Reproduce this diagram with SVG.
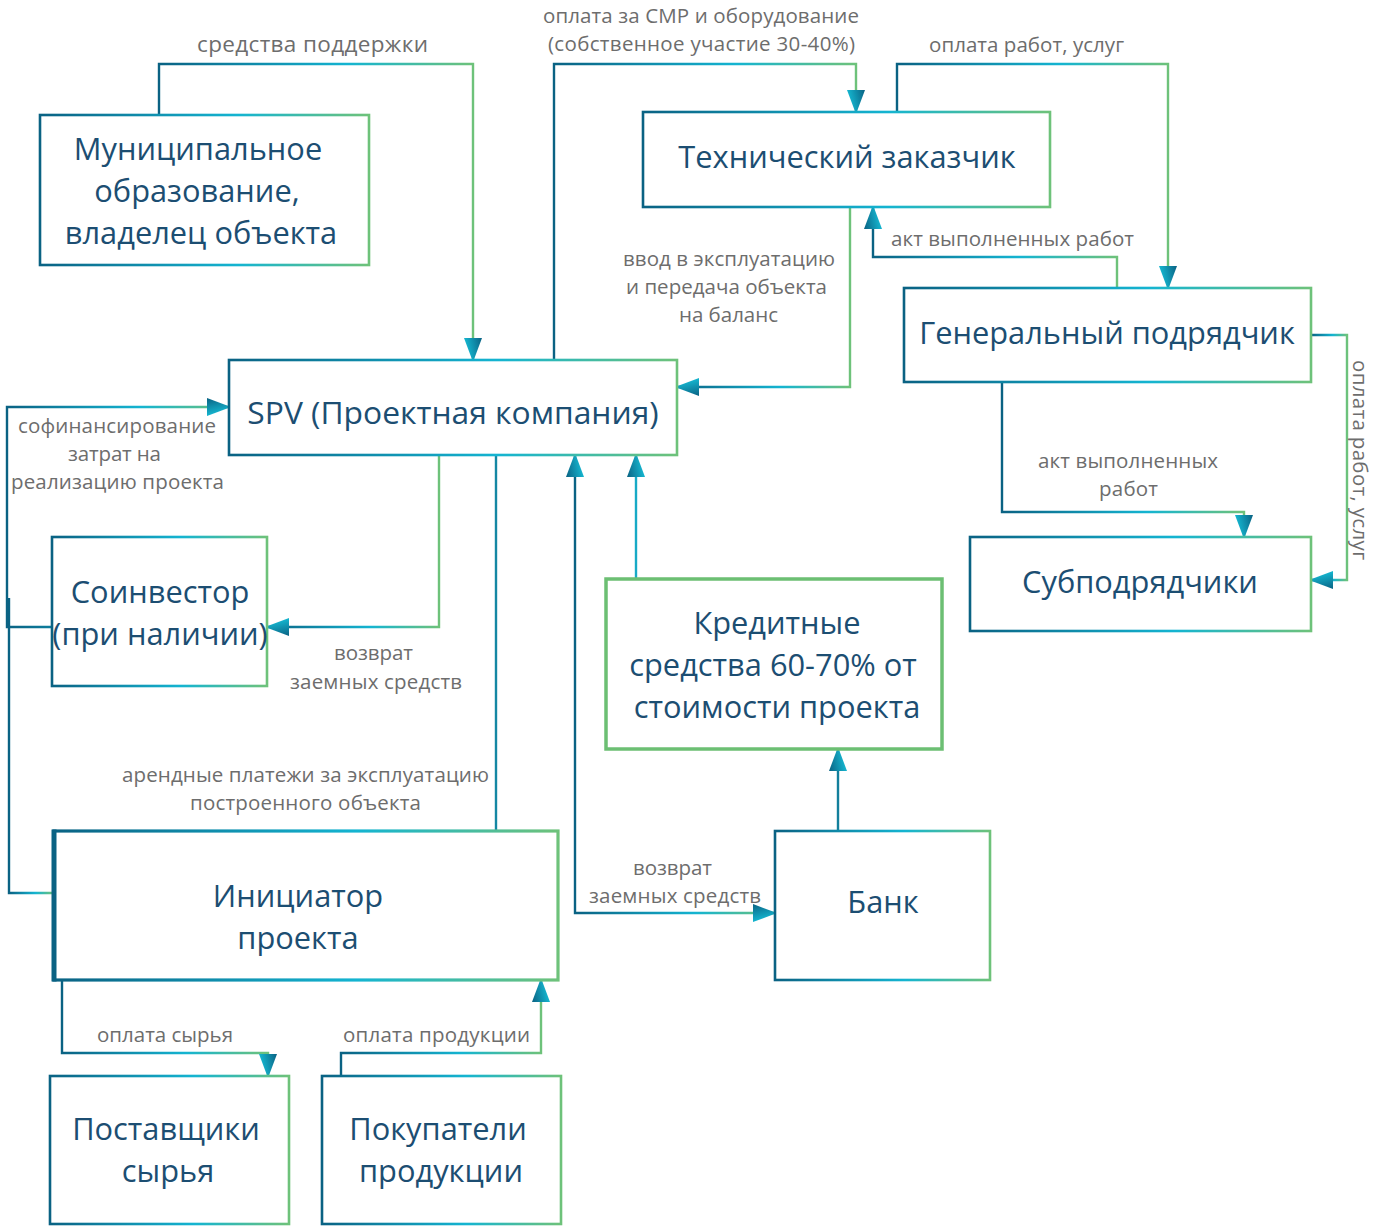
<svg xmlns="http://www.w3.org/2000/svg" width="1389" height="1226" viewBox="0 0 1389 1226">
<defs>
<linearGradient id="g" x1="0" y1="0" x2="1" y2="0">
<stop offset="0" stop-color="#0a6283"/>
<stop offset="0.6" stop-color="#14b4d1"/>
<stop offset="1" stop-color="#6ec27a"/>
</linearGradient>
<linearGradient id="ag" x1="0" y1="0" x2="0.3" y2="1">
<stop offset="0" stop-color="#0a6283"/>
<stop offset="1" stop-color="#16bdd6"/>
</linearGradient>
<marker id="arr" viewBox="0 0 24 18" refX="22" refY="9" markerWidth="24" markerHeight="18" markerUnits="userSpaceOnUse" orient="auto-start-reverse">
<path d="M0,0 L24,9 L0,18 Z" fill="url(#ag)"/>
</marker>
<style>
.box{fill:#fff;stroke:url(#g);stroke-width:2.6}
.nt{font-family:"Open Sans","Noto Sans",sans-serif;font-size:30.8px;fill:#1c4e72;text-anchor:middle}
.lbl{font-family:"Open Sans","Noto Sans",sans-serif;font-size:20.5px;fill:#6d6d6d;text-anchor:middle}
.c{fill:none;stroke:url(#g);stroke-width:2.4}
.cs{fill:none;stroke-width:2.4}
</style>
</defs>
<rect width="1389" height="1226" fill="#fff"/>

<g id="connectors">
<path class="c" d="M159,115 V64 H473 V360" marker-end="url(#arr)"/>
<path class="c" d="M554,360 V64 H856 V112" marker-end="url(#arr)"/>
<path class="c" d="M897,112 V64 H1168 V288" marker-end="url(#arr)"/>
<path class="c" d="M1117,288 V257 H873 V207" marker-end="url(#arr)"/>
<path class="c" d="M850,207 V387 H677" marker-end="url(#arr)"/>
<path class="c" d="M1311,335 H1347 V580 H1311" marker-end="url(#arr)"/>
<path class="c" d="M1002,382 V512 H1244 V537" marker-end="url(#arr)"/>
<path class="c" d="M52,627 H7 V407 H229" marker-end="url(#arr)"/>
<path class="c" d="M53,893 H9 V598"/>
<path class="c" d="M439,455 V627 H267" marker-end="url(#arr)"/>
<path class="cs" stroke="#1487a3" d="M496,831 V455"/>
<path class="c" d="M775,913 H575 V455" marker-start="url(#arr)" marker-end="url(#arr)"/>
<path class="cs" stroke="#17aac6" d="M636,579 V455" marker-end="url(#arr)"/>
<path class="cs" stroke="#137f9c" d="M838,831 V749" marker-end="url(#arr)"/>
<path class="c" d="M62,980 V1053 H268 V1076" marker-end="url(#arr)"/>
<path class="c" d="M341,1076 V1053 H541 V980" marker-end="url(#arr)"/>
</g>

<g id="labels">
<text class="lbl" x="312.5" y="52" style="font-size:22.5px" textLength="231">средства поддержки</text>
<text class="lbl" x="701" y="23" textLength="316">оплата за СМР и оборудование</text>
<text class="lbl" x="701.5" y="51" textLength="307">(собственное участие 30-40%)</text>
<text class="lbl" x="1026.5" y="52" textLength="195">оплата работ, услуг</text>
<text class="lbl" x="1012.5" y="246" textLength="243">акт выполненных работ</text>
<text class="lbl" x="729" y="266" textLength="212">ввод в эксплуатацию</text>
<text class="lbl" x="726.5" y="294" textLength="201">и передача объекта</text>
<text class="lbl" x="728.5" y="322" textLength="99">на баланс</text>
<text class="lbl" transform="translate(1353,460) rotate(90)" x="0" y="0" textLength="200">оплата работ, услуг</text>
<text class="lbl" x="1128" y="468" textLength="180">акт выполненных</text>
<text class="lbl" x="1128.5" y="496" textLength="59">работ</text>
<text class="lbl" x="117" y="433" textLength="198">софинансирование</text>
<text class="lbl" x="114.5" y="461" textLength="93">затрат на</text>
<text class="lbl" x="117.5" y="489" textLength="213">реализацию проекта</text>
<text class="lbl" x="373.5" y="660" textLength="79">возврат</text>
<text class="lbl" x="376" y="689" textLength="172">заемных средств</text>
<text class="lbl" x="305.5" y="782" textLength="367">арендные платежи за эксплуатацию</text>
<text class="lbl" x="305.5" y="810" textLength="231">построенного объекта</text>
<text class="lbl" x="672.5" y="875" textLength="79">возврат</text>
<text class="lbl" x="675" y="903" textLength="172">заемных средств</text>
<text class="lbl" x="165" y="1042" textLength="136">оплата сырья</text>
<text class="lbl" x="436.5" y="1042" textLength="187">оплата продукции</text>
</g>

<g id="node-municipal">
<rect class="box" x="40" y="115" width="329" height="150"/>
<text class="nt" x="198" y="160">Муниципальное</text>
<text class="nt" x="197" y="202">образование,</text>
<text class="nt" x="201" y="244">владелец объекта</text>
</g>
<g id="node-tech">
<rect class="box" x="643" y="112" width="407" height="95"/>
<text class="nt" x="847" y="168">Технический заказчик</text>
</g>
<g id="node-general">
<rect class="box" x="904" y="288" width="407" height="94"/>
<text class="nt" x="1107" y="344">Генеральный подрядчик</text>
</g>
<g id="node-spv">
<rect class="box" x="229" y="360" width="448" height="95"/>
<text class="nt" x="453" y="424" style="font-size:31.8px">SPV (Проектная компания)</text>
</g>
<g id="node-coinvestor">
<rect class="box" x="52" y="537" width="215" height="149"/>
<text class="nt" x="160" y="603">Соинвестор</text>
<text class="nt" x="160" y="645">(при наличии)</text>
</g>
<g id="node-credit">
<rect x="606" y="579" width="336" height="170" fill="#fff" stroke="#6cbf73" stroke-width="3.5"/>
<text class="nt" x="777" y="634">Кредитные</text>
<text class="nt" x="773" y="676">средства 60-70% от</text>
<text class="nt" x="777" y="718">стоимости проекта</text>
</g>
<g id="node-sub">
<rect class="box" x="970" y="537" width="341" height="94"/>
<text class="nt" x="1140" y="593">Субподрядчики</text>
</g>
<g id="node-initiator">
<rect class="box" x="54" y="831" width="504" height="149" style="stroke-width:3.2"/>
<path d="M54,829.5 V981.5" stroke="#0a6283" stroke-width="5"/>
<text class="nt" x="298" y="907">Инициатор</text>
<text class="nt" x="298" y="949">проекта</text>
</g>
<g id="node-bank">
<rect class="box" x="775" y="831" width="215" height="149"/>
<text class="nt" x="883" y="913">Банк</text>
</g>
<g id="node-suppliers">
<rect class="box" x="50" y="1076" width="239" height="148"/>
<text class="nt" x="166" y="1140">Поставщики</text>
<text class="nt" x="168" y="1182">сырья</text>
</g>
<g id="node-buyers">
<rect class="box" x="322" y="1076" width="239" height="148"/>
<text class="nt" x="438" y="1140">Покупатели</text>
<text class="nt" x="441" y="1182">продукции</text>
</g>
</svg>
